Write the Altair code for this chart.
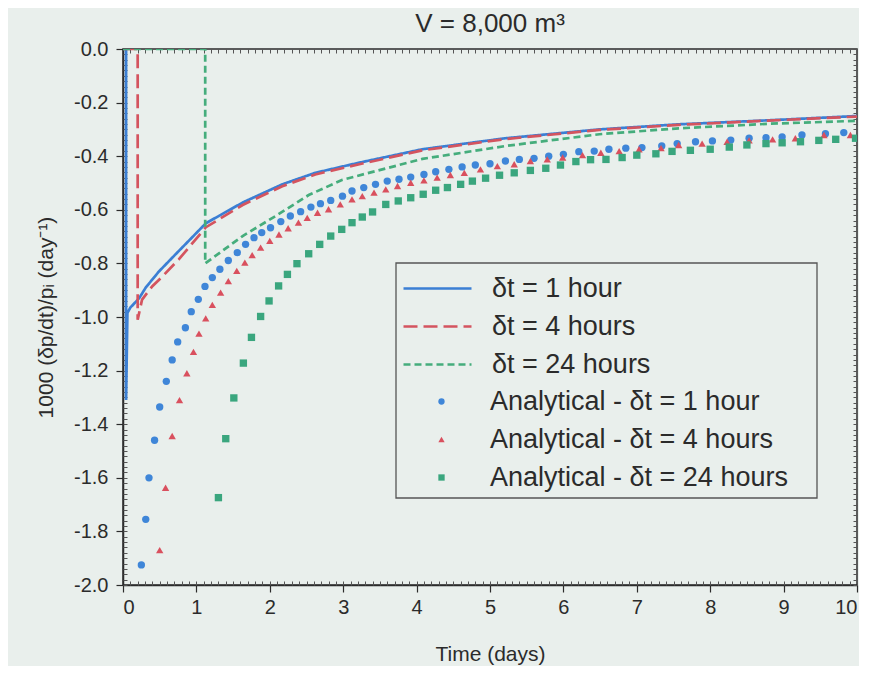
import altair as alt
import pandas as pd

# ---------------- data ----------------
line_names = ["δt = 1 hour", "δt = 4 hours", "δt = 24 hours"]
point_names = ["Analytical - δt = 1 hour", "Analytical - δt = 4 hours",
               "Analytical - δt = 24 hours"]

# numerical solutions (lines)
t_num_1h = [0, 0.042, 0.042, 0.06, 0.10, 0.22, 0.31, 0.49, 0.72, 1.13, 1.63, 2.17, 2.62, 3.22, 4.08, 5.21, 6.49, 7.57, 8.80, 10.0]
y_num_1h = [0, 0, -1.31, -0.985, -0.965, -0.93, -0.89, -0.83, -0.765, -0.65, -0.573, -0.505, -0.462, -0.424, -0.374, -0.333, -0.300, -0.281, -0.266, -0.250]

t_num_4h = [0, 0.20, 0.20, 0.26, 0.40, 0.54, 0.76, 1.13, 1.63, 2.17, 2.62, 3.22, 4.08, 5.21, 6.49, 7.57, 8.80, 10.0]
y_num_4h = [0, 0, -1.01, -0.935, -0.885, -0.848, -0.785, -0.665, -0.582, -0.512, -0.468, -0.430, -0.378, -0.336, -0.302, -0.283, -0.267, -0.252]

t_num_24h = [0, 1.12, 1.12, 1.63, 2.08, 2.53, 2.99, 4.08, 5.21, 6.49, 7.57, 8.80, 10.0]
y_num_24h = [0, 0, -0.80, -0.698, -0.623, -0.545, -0.488, -0.410, -0.362, -0.318, -0.296, -0.279, -0.268]

# analytical solutions (points)
t_an_1h = [0.25, 0.31, 0.354, 0.43, 0.50, 0.59, 0.67, 0.745, 0.85, 0.93,
           1.026, 1.117, 1.217, 1.32, 1.435, 1.557, 1.67, 1.785, 1.89, 2.01,
           2.15, 2.28, 2.42, 2.56, 2.69, 2.83, 2.99, 3.12, 3.28, 3.44,
           3.60, 3.76, 3.92, 4.10, 4.26, 4.44, 4.62, 4.80, 5.00, 5.21,
           5.40, 5.60, 5.80, 6.00, 6.21, 6.42, 6.62, 6.85, 7.07, 7.34,
           7.55, 7.80, 8.03, 8.28, 8.53, 8.76, 8.98, 9.25, 9.57, 9.82]
y_an_1h = [-1.925, -1.755, -1.60, -1.46, -1.336, -1.24, -1.16, -1.093, -1.04, -0.98,
           -0.934, -0.886, -0.853, -0.822, -0.789, -0.76, -0.729, -0.704, -0.685, -0.667,
           -0.644, -0.623, -0.607, -0.59, -0.577, -0.565, -0.549, -0.53, -0.517, -0.505,
           -0.493, -0.486, -0.478, -0.468, -0.458, -0.449, -0.44, -0.433, -0.428, -0.418,
           -0.412, -0.408, -0.40, -0.393, -0.383, -0.381, -0.374, -0.37, -0.368, -0.362,
           -0.353, -0.346, -0.343, -0.34, -0.333, -0.331, -0.328, -0.321, -0.316, -0.312]

t_an_4h = [0.50, 0.58, 0.67, 0.77, 0.87, 0.96, 1.035, 1.127, 1.217, 1.33,
           1.435, 1.55, 1.66, 1.76, 1.875, 2.0, 2.125, 2.25, 2.39, 2.51,
           2.65, 2.80, 2.96, 3.12, 3.26, 3.42, 3.58, 3.74, 3.92, 4.10,
           4.28, 4.46, 4.65, 4.87, 5.10, 5.33, 5.55, 5.78, 5.99, 6.26,
           6.51, 6.76, 7.03, 7.33, 7.57, 7.89, 8.23, 8.53, 8.85, 9.16,
           9.55, 9.91]
y_an_4h = [-1.87, -1.637, -1.444, -1.31, -1.21, -1.13, -1.062, -1.005, -0.955, -0.909,
           -0.866, -0.828, -0.797, -0.769, -0.741, -0.716, -0.692, -0.669, -0.648, -0.63,
           -0.611, -0.598, -0.58, -0.561, -0.549, -0.536, -0.524, -0.511, -0.499, -0.49,
           -0.48, -0.47, -0.462, -0.449, -0.437, -0.43, -0.418, -0.412, -0.405, -0.396,
           -0.387, -0.381, -0.374, -0.37, -0.358, -0.353, -0.346, -0.341, -0.337, -0.333,
           -0.321, -0.321]

t_an_24h = [1.30, 1.40, 1.51, 1.64, 1.75, 1.875, 1.99, 2.12, 2.24, 2.37,
            2.53, 2.68, 2.83, 2.98, 3.12, 3.26, 3.40, 3.58, 3.75, 3.92,
            4.09, 4.26, 4.42, 4.60, 4.76, 4.94, 5.13, 5.33, 5.55, 5.76,
            5.96, 6.17, 6.37, 6.58, 6.80, 7.00, 7.26, 7.48, 7.73, 8.00,
            8.26, 8.50, 8.76, 8.98, 9.23, 9.48, 9.71, 9.98]
y_an_24h = [-1.674, -1.454, -1.302, -1.172, -1.076, -0.998, -0.94, -0.884, -0.841, -0.801,
            -0.764, -0.729, -0.698, -0.673, -0.648, -0.627, -0.608, -0.58, -0.567, -0.555,
            -0.542, -0.527, -0.517, -0.505, -0.493, -0.482, -0.471, -0.462, -0.453, -0.445,
            -0.433, -0.42, -0.413, -0.412, -0.405, -0.396, -0.391, -0.382, -0.378, -0.374,
            -0.366, -0.358, -0.353, -0.35, -0.346, -0.341, -0.337, -0.333]

x_major = list(range(0, 11))
x_minor = [round(i * 0.1, 2) for i in range(0, 101)]
y_major = [round(-0.2 * i, 1) for i in range(0, 11)]
y_minor = [round(-0.02 * i, 2) for i in range(0, 101)]

# ---------------- styling ----------------
BG = "#e9efec"
FONT = "Liberation Sans"
INK = "#2b2b2b"
line_colors = ["#3b7fd4", "#d4545f", "#45ad7c"]
line_dashes = [[1, 0], [14, 6], [7, 4]]
point_colors = ["#3f86d8", "#d9505e", "#3aa67e"]
point_shapes = ["circle", "triangle-up", "square"]

W, H = 734, 536

rows = []
for name, ts, ys in zip(line_names, [t_num_1h, t_num_4h, t_num_24h], [y_num_1h, y_num_4h, y_num_24h]):
    for i, (t, y) in enumerate(zip(ts, ys)):
        rows.append({"series": name, "t": t, "y": y, "i": i})
lines_df = pd.DataFrame(rows)

rows = []
for name, ts, ys in zip(point_names, [t_an_1h, t_an_4h, t_an_24h], [y_an_1h, y_an_4h, y_an_24h]):
    for t, y in zip(ts, ys):
        rows.append({"series": name, "t": t, "y": y})
pts_df = pd.DataFrame(rows)

# long horizontal line symbol (custom path, scaled by sqrt(size)/2)
line_legend = alt.Legend(
    title=None, orient="none", legendX=301, legendY=226, padding=0,
    labelFont=FONT, labelFontSize=27, labelColor=INK, labelOffset=41, labelLimit=500,
    symbolType="M-3.4,0H3.4", symbolSize=400, symbolStrokeWidth=2.5, rowPadding=10,
)
point_legend = alt.Legend(
    title=None, orient="none", legendX=305, legendY=339, padding=0,
    labelFont=FONT, labelFontSize=27, labelColor=INK, labelOffset=35, labelLimit=500,
    symbolSize=40, symbolStrokeWidth=0, rowPadding=10,
)

xscale = alt.Scale(domain=[0, 10], nice=False, zero=False)
yscale = alt.Scale(domain=[-2, 0], nice=False, zero=False)

minus_fix = "replace(format(datum.value, '.1f'), '\u2212', '-')"

x_main = alt.Axis(orient="bottom", values=x_major, format="d", tickSize=7, labelPadding=5,
                  labelFont=FONT, labelFontSize=20, labelColor=INK, grid=False,
                  domainColor=INK, domainWidth=1.5, tickColor=INK, tickWidth=1.2,
                  title="Time (days)", titleFont=FONT, titleFontSize=21, titleFontWeight="normal",
                  titleColor=INK, titlePadding=26)
y_main = alt.Axis(orient="left", values=y_major, labelExpr=minus_fix, tickSize=7, labelPadding=8,
                  labelFont=FONT, labelFontSize=20, labelColor=INK, grid=False,
                  domainColor=INK, domainWidth=1.5, tickColor=INK, tickWidth=1.2,
                  title="1000 (δp/dt)/pᵢ  (day⁻¹)", titleFont=FONT, titleFontSize=21,
                  titleFontWeight="normal", titleColor=INK, titlePadding=17)


def minor_axis(orient, offset, values):
    return alt.Axis(orient=orient, offset=offset, values=values, labels=False, domain=False,
                    grid=False, title=None, tickSize=4, tickColor="#555", tickWidth=1)


lines = alt.Chart(lines_df).mark_line(strokeWidth=2.7, clip=True).encode(
    x=alt.X("t:Q", scale=xscale, axis=x_main),
    y=alt.Y("y:Q", scale=yscale, axis=y_main),
    stroke=alt.Stroke("series:N", scale=alt.Scale(domain=line_names, range=line_colors), legend=line_legend),
    strokeDash=alt.StrokeDash("series:N", scale=alt.Scale(domain=line_names, range=line_dashes), legend=line_legend),
    order=alt.Order("i:Q"),
)

points = alt.Chart(pts_df).mark_point(filled=True, size=54, opacity=1, strokeWidth=0, clip=True).encode(
    x=alt.X("t:Q", scale=xscale, axis=minor_axis("top", -H, x_minor)),
    y=alt.Y("y:Q", scale=yscale, axis=minor_axis("right", -W, y_minor)),
    fill=alt.Fill("series:N", scale=alt.Scale(domain=point_names, range=point_colors), legend=point_legend),
    shape=alt.Shape("series:N", scale=alt.Scale(domain=point_names, range=point_shapes), legend=point_legend),
)

frame_ticks = alt.Chart(pts_df).mark_point(opacity=0).encode(
    x=alt.X("t:Q", scale=xscale, axis=minor_axis("bottom", -H, x_minor)),
    y=alt.Y("y:Q", scale=yscale, axis=minor_axis("left", -W, y_minor)),
)

legend_box = alt.Chart(pd.DataFrame({"box": [0]})).mark_rect(
    fill=BG, stroke="#555", strokeWidth=1.3
).encode(
    x=alt.value(273), x2=alt.value(694), y=alt.value(214), y2=alt.value(449)
)

chart = alt.layer(lines, points, frame_ticks, legend_box).resolve_axis(
    x="independent", y="independent"
).properties(
    width=W, height=H,
    title=alt.TitleParams("V = 8,000 m³", font=FONT, fontSize=26, fontWeight="normal",
                          color=INK, offset=2),
    background=BG,
    padding={"left": 27, "top": 3, "right": 0, "bottom": 2},
).configure_view(
    stroke=INK, strokeWidth=1.5, fill=BG
)

chart.save("out.html", embed_options={"renderer": "svg", "actions": False})
